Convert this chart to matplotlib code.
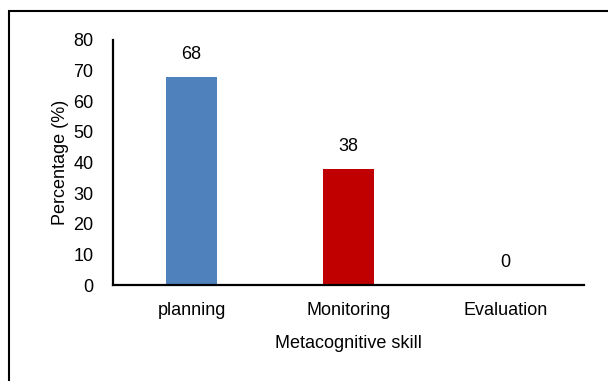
import matplotlib.pyplot as plt
from matplotlib.patches import Rectangle

skills = ['planning', 'Monitoring', 'Evaluation']
percent = [68, 38, 0]
bar_colors = ['#4F81BD', '#C00000', '#9BBB59']
y_ticks = [0, 10, 20, 30, 40, 50, 60, 70, 80]

plt.rcParams['font.family'] = ['Liberation Sans', 'DejaVu Sans']
fs = 13

fig = plt.figure(figsize=(6.08, 3.81), dpi=100)
ax = fig.add_axes([113 / 608, 96 / 381, 471 / 608, 245 / 381])

x_pos = range(len(skills))
bars = ax.bar(x_pos, percent, width=0.32, color=bar_colors)
for xi, val in zip(x_pos, percent):
    ax.annotate(str(val), (xi, val), xytext=(0, 10), textcoords='offset points',
                ha='center', va='bottom', fontsize=fs)

ax.set_xlim(-0.5, 2.5)
ax.set_ylim(0, 80)
ax.set_yticks(y_ticks)
ax.set_xticks(list(x_pos))
ax.set_xticklabels(skills)
ax.tick_params(axis='both', length=0, labelsize=fs)
ax.tick_params(axis='y', pad=14)
ax.tick_params(axis='x', pad=12)
for side in ['top', 'right']:
    ax.spines[side].set_visible(False)
for side in ['left', 'bottom']:
    ax.spines[side].set_linewidth(1.6)
ax.set_ylabel('Percentage (%)', fontsize=fs, labelpad=3)
ax.set_xlabel('Metacognitive skill', fontsize=fs, labelpad=12)

# frame around the chart (runs past the right and bottom edges)
fig.add_artist(Rectangle((9 / 608, -0.1), 1.2, (370 / 381) + 0.1,
                         transform=fig.transFigure, fill=False,
                         edgecolor='black', linewidth=1.5))

fig.savefig('out.png', dpi=100)
